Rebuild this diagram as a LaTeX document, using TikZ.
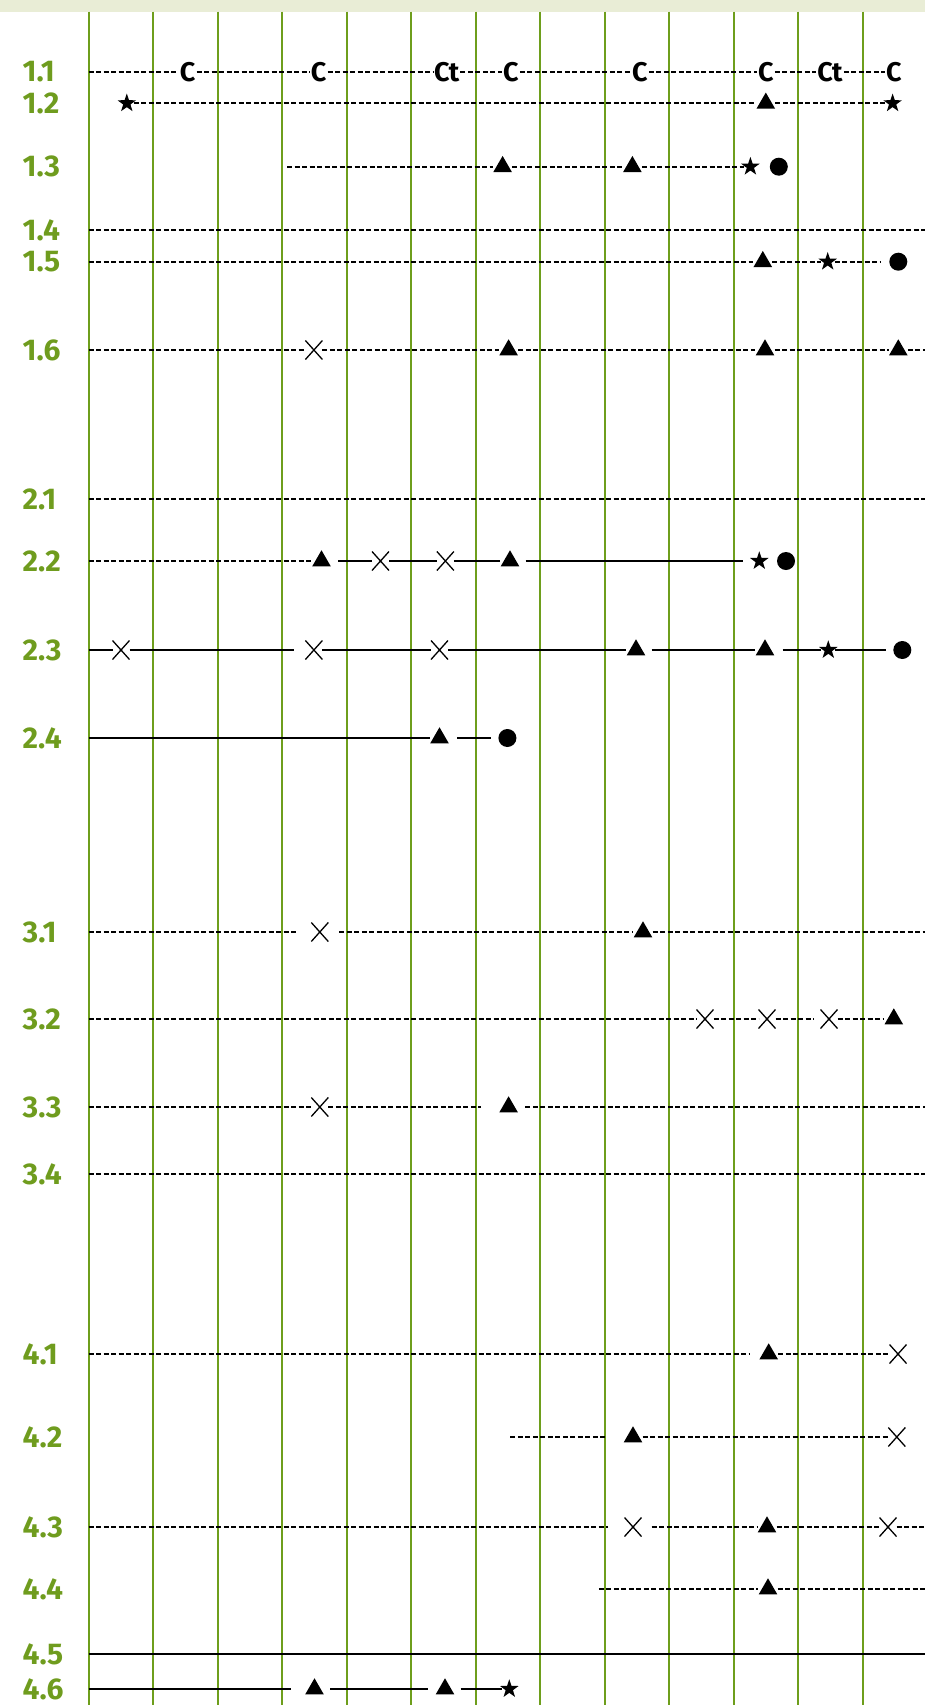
\documentclass[tikz,border=0pt]{standalone}
\usepackage{fontspec}
\setmainfont{Fira Sans}
\usetikzlibrary{shapes.geometric,shapes.misc}
\definecolor{grn}{HTML}{6E9E1C}
\definecolor{bandc}{HTML}{E9EDD6}
\definecolor{labc}{HTML}{6F9C1E}
\begin{document}
\begin{tikzpicture}[x=1pt,y=-1pt,
  vline/.style={grn, line width=2.2pt},
  dsh/.style={black, line width=1.9pt, dash pattern=on 5pt off 2.5pt},
  sld/.style={black, line width=1.9pt},
  rowlab/.style={anchor=west, text=labc, font=\fontsize{30}{30}\selectfont\bfseries, inner sep=0pt},
  cl/.style={font=\fontsize{27}{27}\selectfont\bfseries, inner sep=1pt},
  tri/.style={regular polygon, regular polygon sides=3, fill=black, minimum size=21.5pt, inner sep=0pt, outer sep=3pt},
  strm/.style={star, star points=5, star point ratio=2.55, fill=black, minimum size=19.5pt, inner sep=0pt, outer sep=1pt},
  dotm/.style={circle, fill=black, minimum size=18pt, inner sep=0pt, outer sep=1pt},
  crs/.style={cross out, draw=black, line width=1.3pt, minimum width=13pt, minimum height=15pt, inner sep=0pt, outer sep=2pt},
]
\useasboundingbox (0,0) rectangle (925,1705);
\fill[bandc] (0,0) rectangle (925,11.7);
\foreach \k in {0,...,12} \draw[vline] ({88.7+64.5*\k},11.7) -- ({88.7+64.5*\k},1705);

% labels
\foreach \t/\yy in {1.1/71.7,1.2/103.3,1.3/166.7,1.4/230,1.5/261.7,1.6/350,
  2.1/499,2.2/561,2.3/650,2.4/738,3.1/932,3.2/1019,3.3/1107,3.4/1174,
  4.1/1354,4.2/1437,4.3/1527,4.4/1589,4.5/1654,4.6/1689}
  \node[rowlab] (lab\t) at (22.5,\yy) {\t};

% 1.1
\coordinate (s11) at (88.7,71.7);
\node[cl] (c11a) at (187.6,71.7) {C};
\node[cl] (c11b) at (318.6,71.7) {C};
\node[cl] (c11c) at (446.6,71.7) {Ct};
\node[cl] (c11d) at (511,71.7) {C};
\node[cl] (c11e) at (640,71.7) {C};
\node[cl] (c11f) at (765.8,71.7) {C};
\node[cl] (c11g) at (830,71.7) {Ct};
\node[cl] (c11h) at (893.8,71.7) {C};
\draw[dsh] (s11) -- (c11a) -- (c11b) -- (c11c) -- (c11d) -- (c11e) -- (c11f) -- (c11g) -- (c11h);

% 1.2
\node[strm] (s12a) at (126.8,103.3) {};
\node[tri] (t12a) at (765.8,103.3) {};
\node[strm] (s12b) at (892.6,103.3) {};
\draw[dsh] (s12a) -- (t12a) -- (s12b);

% 1.3
\coordinate (s13) at (287,166.7);
\node[tri] (t13a) at (502.6,166.7) {};
\node[tri] (t13b) at (632.4,166.7) {};
\node[strm] (s13a) at (750.4,166.7) {};
\node[dotm] (d13a) at (778.8,166.7) {};
\draw[dsh] (s13) -- (t13a) -- (t13b) -- (s13a);

% 1.4
\coordinate (a14) at (88.7,230); \coordinate (b14) at (925,230);
\draw[dsh] (a14) -- (b14);

% 1.5
\coordinate (a15) at (88.7,261.7);
\node[tri] (t15a) at (762.8,261.7) {};
\node[strm] (s15a) at (827.7,261.7) {};
\coordinate (b15) at (880,261.7);
\node[dotm] (d15a) at (898.3,261.7) {};
\draw[dsh] (a15) -- (t15a) -- (s15a) -- (b15);

% 1.6
\coordinate (a16) at (88.7,350);
\node[crs] (x16a) at (313.9,350) {};
\node[tri] (t16a) at (508.6,350) {};
\node[tri] (t16b) at (765,350) {};
\node[tri] (t16c) at (898.3,350) {};
\coordinate (b16) at (925,350);
\draw[dsh] (a16) -- (x16a) -- (t16a) -- (t16b) -- (t16c) -- (b16);

% 2.1
\coordinate (a21) at (88.7,499); \coordinate (b21) at (925,499);
\draw[dsh] (a21) -- (b21);

% 2.2
\coordinate (a22) at (88.7,561);
\node[tri] (t22a) at (321.5,561) {};
\node[crs] (x22a) at (380.5,561) {};
\node[crs] (x22b) at (445.4,561) {};
\node[tri] (t22b) at (510,561) {};
\coordinate (b22) at (743,561);
\node[strm] (s22a) at (759.3,561) {};
\node[dotm] (d22a) at (786,561) {};
\draw[dsh] (a22) -- (t22a);
\draw[sld, shorten <=7pt] (t22a) -- (x22a);
\draw[sld] (x22a) -- (x22b) -- (t22b);
\draw[sld, shorten <=6pt] (t22b) -- (b22);

% 2.3
\coordinate (a23) at (88.7,650);
\node[crs] (x23a) at (121,650) {};
\node[crs] (x23b) at (313.9,650) {};
\node[crs] (x23c) at (439.5,650) {};
\node[tri] (t23a) at (636,650) {};
\node[tri] (t23b) at (765,650) {};
\node[strm] (s23a) at (828.3,650) {};
\node[dotm] (d23a) at (902.3,650) {};
\draw[sld] (a23) -- (x23a);
\draw[sld, shorten >=11pt] (x23a) -- (x23b);
\draw[sld] (x23b) -- (x23c) -- (t23a);
\draw[sld, shorten <=6pt] (t23a) -- (t23b);
\draw[sld, shorten <=8pt] (t23b) -- (s23a);
\draw[sld, shorten >=6pt] (s23a) -- (d23a);

% 2.4
\coordinate (a24) at (88.7,738);
\node[tri] (t24a) at (439.5,738) {};
\node[dotm] (d24a) at (507.4,738) {};
\draw[sld] (a24) -- (t24a);
\draw[sld, shorten <=8pt, shorten >=6pt] (t24a) -- (d24a);

% 3.1
\coordinate (a31) at (88.7,932);
\node[crs] (x31a) at (319.8,932) {};
\node[tri] (t31a) at (643,932) {};
\coordinate (b31) at (925,932);
\draw[dsh, shorten >=13pt] (a31) -- (x31a);
\draw[dsh, shorten <=11pt] (x31a) -- (t31a);
\draw[dsh] (t31a) -- (b31);

% 3.2
\coordinate (a32) at (88.7,1019);
\node[crs] (x32a) at (705,1019) {};
\node[crs] (x32b) at (767,1019) {};
\node[crs] (x32c) at (829,1019) {};
\node[tri] (t32a) at (893.8,1019) {};
\draw[dsh] (a32) -- (x32a) -- (x32b);
\draw[dsh, shorten >=7pt] (x32b) -- (x32c);
\draw[dsh] (x32c) -- (t32a);

% 3.3
\coordinate (a33) at (88.7,1107);
\node[crs] (x33a) at (319.8,1107) {};
\node[tri] (t33a) at (508.6,1107) {};
\coordinate (b33) at (925,1107);
\draw[dsh] (a33) -- (x33a);
\draw[dsh, shorten >=18pt] (x33a) -- (t33a);
\draw[dsh, shorten <=7pt] (t33a) -- (b33);

% 3.4
\coordinate (a34) at (88.7,1174); \coordinate (b34) at (925,1174);
\draw[dsh] (a34) -- (b34);

% 4.1
\coordinate (a41) at (88.7,1354);
\node[tri] (t41a) at (768.7,1354) {};
\node[crs] (x41a) at (898,1354) {};
\draw[dsh, shorten >=10pt] (a41) -- (t41a);
\draw[dsh] (t41a) -- (x41a);

% 4.2
\coordinate (a42) at (510.3,1437);
\node[tri] (t42a) at (633,1437) {};
\node[crs] (x42a) at (896.8,1437) {};
\draw[dsh, shorten >=16pt] (a42) -- (t42a);
\draw[dsh] (t42a) -- (x42a);

% 4.3
\coordinate (a43) at (88.7,1527);
\node[crs] (x43a) at (633,1527) {};
\node[tri] (t43a) at (767,1527) {};
\node[crs] (x43b) at (888,1527) {};
\coordinate (b43) at (925,1527);
\draw[dsh, shorten >=17pt] (a43) -- (x43a);
\draw[dsh, shorten <=10pt] (x43a) -- (t43a);
\draw[dsh] (t43a) -- (x43b) -- (b43);

% 4.4
\coordinate (a44) at (598.8,1589);
\node[tri] (t44a) at (768,1589) {};
\coordinate (b44) at (925,1589);
\draw[dsh] (a44) -- (t44a) -- (b44);

% 4.5
\coordinate (a45) at (88.7,1654); \coordinate (b45) at (925,1654);
\draw[sld] (a45) -- (b45);

% 4.6
\coordinate (a46) at (88.7,1689);
\node[tri] (t46a) at (314.5,1689) {};
\node[tri] (t46b) at (445,1689) {};
\node[strm] (s46a) at (509.3,1689) {};
\draw[sld, shorten >=14pt] (a46) -- (t46a);
\draw[sld, shorten <=6pt, shorten >=7pt] (t46a) -- (t46b);
\draw[sld, shorten <=6pt] (t46b) -- (s46a);
\end{tikzpicture}
\end{document}
